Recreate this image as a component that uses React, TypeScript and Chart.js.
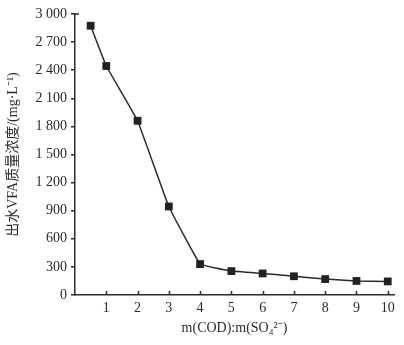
import React, { useEffect, useRef } from "react";
import { Chart, registerables } from "chart.js";

Chart.register(...registerables);

const ratioValues = [0.5, 1, 2, 3, 4, 5, 6, 7, 8, 9, 10];
const vfaValues = [2875, 2445, 1860, 945, 330, 255, 230, 200, 170, 150, 145];
const xTickValues = [1, 2, 3, 4, 5, 6, 7, 8, 9, 10];
const yTitle = "出水VFA质量浓度/(mg·L⁻¹)";
const xTitle = "m(COD):m(SO₄²⁻)";

const serif = "'Liberation Serif', 'Times New Roman', serif";
const ink = "#2b2b2b";

function fmtY(v: number): string {
  if (v >= 1000) {
    return `${Math.floor(v / 1000)} ${String(v % 1000).padStart(3, "0")}`;
  }
  return String(v);
}

const innerTicks = {
  id: "innerTicks",
  afterDraw(chart: any) {
    const ctx = chart.ctx;
    const xs = chart.scales.x;
    const ys = chart.scales.y;
    const y0 = ys.getPixelForValue(0);
    ctx.save();
    ctx.strokeStyle = ink;
    ctx.lineWidth = 1.5;
    ctx.beginPath();
    for (const v of xTickValues) {
      const px = Math.round(xs.getPixelForValue(v)) + 0.5;
      ctx.moveTo(px, y0);
      ctx.lineTo(px, y0 - 4);
    }
    const yTop = ys.getPixelForValue(3000);
    ctx.moveTo(xs.getPixelForValue(0), yTop);
    ctx.lineTo(xs.getPixelForValue(0) + 4, yTop);
    ctx.stroke();
    ctx.restore();
  },
};

export default function App() {
  const ref = useRef<HTMLCanvasElement | null>(null);
  useEffect(() => {
    if (!ref.current) return;
    const chart = new Chart(ref.current, {
      type: "line",
      data: {
        datasets: [
          {
            data: ratioValues.map((x, i) => ({ x, y: vfaValues[i] })),
            borderColor: ink,
            borderWidth: 1.5,
            backgroundColor: "#222",
            pointStyle: "rect",
            pointRadius: 5.5,
            pointBorderWidth: 0,
            tension: 0.07,
          },
        ],
      },
      options: {
        animation: false,
        responsive: false,
        layout: { padding: { top: 14, right: 10, left: 0, bottom: 0 } },
        plugins: { legend: { display: false }, tooltip: { enabled: false } },
        scales: {
          x: {
            type: "linear",
            min: 0,
            max: 10.2,
            afterBuildTicks: (s: any) => {
              s.ticks = xTickValues.map((v) => ({ value: v }));
            },
            afterFit: (s: any) => {
              s.height = 50;
            },
            border: { color: ink, width: 1.5 },
            grid: { drawOnChartArea: false, drawTicks: false },
            ticks: {
              color: ink,
              font: { family: serif, size: 14 },
              padding: 5,
              maxRotation: 0,
            },
            title: {
              display: true,
              text: xTitle,
              color: ink,
              font: { family: serif, size: 14 },
              padding: { top: 0, bottom: 8 },
            },
          },
          y: {
            type: "linear",
            min: 0,
            max: 3000,
            afterFit: (s: any) => {
              s.width = 75;
            },
            border: { color: ink, width: 1.5 },
            grid: { drawOnChartArea: false, drawTicks: true, tickLength: 4, color: ink, lineWidth: 1.5 },
            ticks: {
              stepSize: 300,
              color: ink,
              font: { family: serif, size: 14 },
              padding: 4,
              callback: (v: any) => fmtY(Number(v)),
            },
            title: {
              display: true,
              text: yTitle,
              color: ink,
              font: { family: serif + ", 'Noto Sans CJK SC'", size: 14 },
              padding: { top: 5, bottom: 0 },
            },
          },
        },
      },
      plugins: [innerTicks],
    } as any);
    return () => chart.destroy();
  }, []);
  return (
    <div style={{ position: "fixed", left: 0, top: 0, width: 404, height: 345, background: "#fff" }}>
      <canvas ref={ref} width={404} height={345} style={{ width: 404, height: 345, display: "block" }} />
    </div>
  );
}
